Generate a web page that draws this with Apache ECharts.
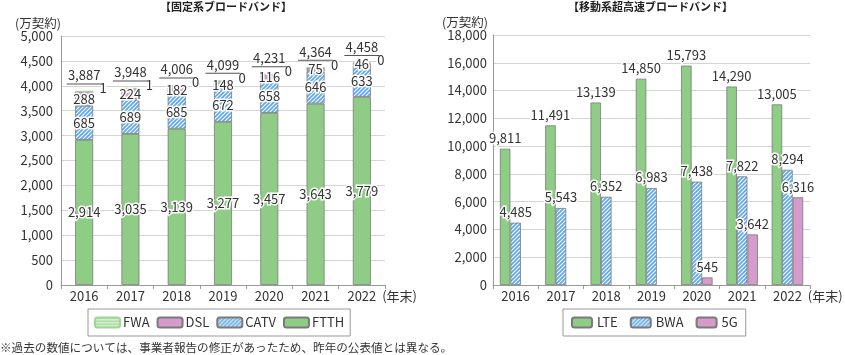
<!DOCTYPE html>
<html><head><meta charset="utf-8">
<script src="https://cdn.jsdelivr.net/npm/echarts@6/dist/echarts.min.js"></script>
<style>html,body{margin:0;padding:0;background:#fff}#c{width:845px;height:355px}</style>
</head><body><div id="c"></div>
<script>
const years = ['2016','2017','2018','2019','2020','2021','2022'];
// fixed broadband (万契約)
const ftth = [2914,3035,3139,3277,3457,3643,3779];
const catv = [685,689,685,672,658,646,633];
const dsl = [288,224,182,148,116,75,46];
const fwa = [1,1,0,0,0,0,0];
const fixedTotal = [3887,3948,4006,4099,4231,4364,4458];
// mobile ultra-high-speed broadband (万契約)
const lte = [9811,11491,13139,14850,15793,14290,13005];
const bwa = [4485,5543,6352,6983,7438,7822,8294];
const g5 = [null,null,null,null,545,3642,6316];
const leftTicks = {min:0,max:5000,interval:500};
const rightTicks = {min:0,max:18000,interval:2000};

const FONT = '"Noto Sans CJK JP","Noto Sans",sans-serif';
const GREEN = '#8fcc86', PINK = '#d49bcb', BLUE = '#5ea8e8', EDGE = '#7a7a7a';

function pattern(kind, fg, bg, size){
  const c = document.createElement('canvas'); c.width = c.height = size;
  const g = c.getContext('2d');
  g.fillStyle = bg; g.fillRect(0,0,size,size);
  g.strokeStyle = fg; g.fillStyle = fg;
  if (kind === 'diag') {
    g.lineWidth = size/2.4;
    g.beginPath();
    g.moveTo(-1,size+1); g.lineTo(size+1,-1);
    g.moveTo(-1,1); g.lineTo(1,-1);
    g.moveTo(size-1,size+1); g.lineTo(size+1,size-1);
    g.stroke();
  } else {
    g.fillRect(0,0,size,size/2);
  }
  return {image:c, repeat:'repeat'};
}
const blueStripe = pattern('diag', BLUE, '#ffffff', 4);
const fwaStripe = pattern('horiz', '#9fd596', '#e6f4e3', 3);

const fmt = v => (v==null?'':Number(v).toLocaleString('en-US'));
const halo = {textBorderColor:'#fff', textBorderWidth:3};
const lblBase = Object.assign({show:true, color:'#333', fontSize:13, fontFamily:FONT}, halo);

const chart = echarts.init(document.getElementById('c'), null, {renderer:'canvas'});

function yAxis(gi, t, labelMargin, namePad){
  return {
    type:'value', gridIndex:gi, min:t.min, max:t.max, interval:t.interval,
    name:'(万契約)', nameLocation:'end', nameGap:3,
    nameTextStyle:{color:'#333', fontSize:12.5, fontFamily:FONT, align:'right', padding:[0,namePad,0,0]},
    axisLine:{show:true, lineStyle:{color:'#9a9a9a'}},
    axisTick:{show:false},
    axisLabel:{color:'#333', fontSize:13, fontFamily:FONT, margin:labelMargin, formatter:v=>fmt(v)},
    splitLine:{lineStyle:{color:'#d4d4d4'}}
  };
}
function xAxis(gi){
  return {
    type:'category', gridIndex:gi, data:years,
    name:'(年末)', nameLocation:'end', nameGap:-5,
    nameTextStyle:{color:'#333', fontSize:13, fontFamily:FONT, verticalAlign:'top', padding:[5,0,0,0]},
    axisLine:{lineStyle:{color:'#9a9a9a'}},
    axisTick:{show:true, length:4, lineStyle:{color:'#9a9a9a'}},
    axisLabel:{color:'#333', fontSize:13, fontFamily:FONT, margin:5}
  };
}

const option = {
  animation:false,
  textStyle:{fontFamily:FONT},
  grid:[
    {left:61, right:460, top:36, bottom:70},
    {left:493, right:27, top:35, bottom:70}
  ],
  xAxis:[xAxis(0), xAxis(1)],
  yAxis:[yAxis(0,leftTicks,8,0), yAxis(1,rightTicks,6,5)],
  legend:[
    {data:['FWA','DSL','CATV','FTTH'], left:88, top:309, orient:'horizontal',
     itemWidth:25, itemHeight:10, itemGap:7, padding:[7,6,7,6],
     borderColor:'#999', borderWidth:1,
     textStyle:{color:'#333', fontSize:13, fontFamily:FONT, padding:[0,0,0,-2]}},
    {data:['LTE','BWA','5G'], left:563, top:309, orient:'horizontal',
     itemWidth:20, itemHeight:10, itemGap:12, padding:[7,8,7,8],
     borderColor:'#999', borderWidth:1,
     textStyle:{color:'#333', fontSize:13, fontFamily:FONT}}
  ],
  graphic:[
    {type:'text', left:160, top:1, style:{text:'【固定系ブロードバンド】', font:'bold 11px '+FONT, fill:'#222'}},
    {type:'text', left:568, top:1, style:{text:'【移動系超高速ブロードバンド】', font:'bold 11px '+FONT, fill:'#222'}},
    {type:'text', left:0, top:342, style:{text:'※過去の数値については、事業者報告の修正があったため、昨年の公表値とは異なる。', font:'11.6px '+FONT, fill:'#333'}}
  ],
  series:[
    {name:'FTTH', type:'bar', stack:'fixed', xAxisIndex:0, yAxisIndex:0, barWidth:18, data:ftth,
     itemStyle:{color:GREEN, borderColor:EDGE, borderWidth:0.8},
     label:Object.assign({position:'inside', formatter:p=>fmt(p.value)}, lblBase)},
    {name:'CATV', type:'bar', stack:'fixed', xAxisIndex:0, yAxisIndex:0, barWidth:18, data:catv,
     itemStyle:{color:blueStripe, borderColor:EDGE, borderWidth:0.8},
     label:Object.assign({position:'inside', formatter:p=>fmt(p.value)}, lblBase)},
    {name:'DSL', type:'bar', stack:'fixed', xAxisIndex:0, yAxisIndex:0, barWidth:18, data:dsl,
     itemStyle:{color:PINK, borderColor:EDGE, borderWidth:0.8},
     label:Object.assign({position:'inside', formatter:p=>fmt(p.value)}, lblBase)},
    {name:'FWA', type:'bar', stack:'fixed', xAxisIndex:0, yAxisIndex:0, barWidth:18, data:fwa,
     itemStyle:{color:fwaStripe, borderColor:'#9fd596', borderWidth:0.8},
     label:Object.assign({position:'right', distance:6, offset:[0,-3], formatter:p=>fmt(p.value)}, lblBase)},
    {name:'total', type:'scatter', xAxisIndex:0, yAxisIndex:0, data:fixedTotal, symbolSize:0, silent:true,
     itemStyle:{opacity:1, color:'#333'},
     label:{show:true, position:'top', distance:7, align:'center', opacity:1,
       formatter:p=>'{v|'+fmt(p.value)+'}\n{u| }',
       rich:{v:{color:'#333', fontSize:13, fontFamily:FONT, lineHeight:16, align:'center'},
             u:{width:35, height:1, lineHeight:1, fontSize:1, backgroundColor:'#555', align:'center'}}}},
    {name:'LTE', type:'bar', xAxisIndex:1, yAxisIndex:1, barWidth:10.5, barGap:'0%', data:lte,
     itemStyle:{color:GREEN, borderColor:EDGE, borderWidth:0.8},
     label:Object.assign({position:'top', distance:4, formatter:p=>fmt(p.value)}, lblBase)},
    {name:'BWA', type:'bar', xAxisIndex:1, yAxisIndex:1, barWidth:10.5, barGap:'0%', data:bwa,
     itemStyle:{color:blueStripe, borderColor:EDGE, borderWidth:0.8},
     label:Object.assign({position:'top', distance:4, formatter:p=>fmt(p.value)}, lblBase)},
    {name:'5G', type:'bar', xAxisIndex:1, yAxisIndex:1, barWidth:10.5, barGap:'0%', data:g5,
     itemStyle:{color:PINK, borderColor:EDGE, borderWidth:0.8},
     label:Object.assign({position:'top', distance:4, formatter:p=>fmt(p.value)}, lblBase)}
  ]
};
chart.setOption(option);
</script>
</body></html>
